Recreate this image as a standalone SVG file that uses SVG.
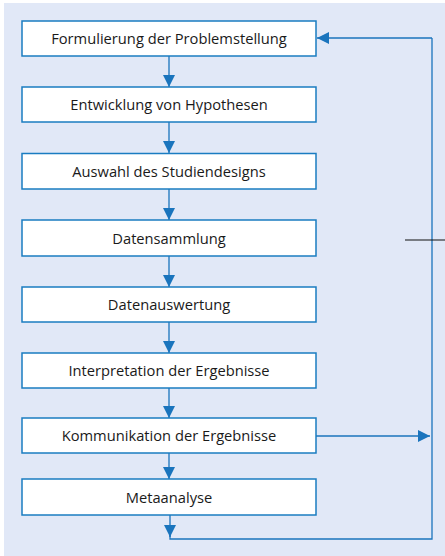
<svg xmlns="http://www.w3.org/2000/svg" width="445" height="556" viewBox="0 0 445 556">
<defs>
<style>
.box{fill:#ffffff;stroke:#1a7cc1;stroke-width:1.5}
.lbl{font-family:"Open Sans","Liberation Sans",sans-serif;font-size:14.7px;fill:#1a1a1a;text-anchor:middle}
.con{fill:none;stroke:#1a74bd;stroke-width:1.3}
</style>
<marker id="ah" viewBox="0 0 12 12" refX="12" refY="6" markerWidth="12" markerHeight="12" markerUnits="userSpaceOnUse" orient="auto">
<path d="M0,0 L12,6 L0,12 Z" fill="#1a74bd"/>
</marker>
</defs>
<rect x="4" y="3" width="441" height="553" fill="#e1e8f7"/>
<g id="connectors">
<line class="con" x1="169" y1="56" x2="169" y2="87" marker-end="url(#ah)"/>
<line class="con" x1="169" y1="122" x2="169" y2="153" marker-end="url(#ah)"/>
<line class="con" x1="169" y1="189" x2="169" y2="220" marker-end="url(#ah)"/>
<line class="con" x1="169" y1="256" x2="169" y2="287" marker-end="url(#ah)"/>
<line class="con" x1="169" y1="322" x2="169" y2="353" marker-end="url(#ah)"/>
<line class="con" x1="169" y1="388" x2="169" y2="418" marker-end="url(#ah)"/>
<line class="con" x1="169" y1="453" x2="169" y2="479" marker-end="url(#ah)"/>
<line class="con" x1="316" y1="436" x2="430" y2="436" marker-end="url(#ah)"/>
<polyline class="con" points="170,515 170,539 432,539 432,38"/>
<line class="con" x1="170" y1="525" x2="170" y2="537" marker-end="url(#ah)"/>
<line class="con" x1="432" y1="38" x2="317" y2="38" marker-end="url(#ah)"/>
<line x1="405" y1="240" x2="445" y2="240" stroke="#111111" stroke-width="1.2"/>
</g>
<g id="n1"><rect class="box" x="22" y="21" width="294" height="35"/><text class="lbl" x="169" y="44">Formulierung der Problemstellung</text></g>
<g id="n2"><rect class="box" x="22" y="87" width="294" height="35"/><text class="lbl" x="169" y="110">Entwicklung von Hypothesen</text></g>
<g id="n3"><rect class="box" x="22" y="153.5" width="294" height="35.5"/><text class="lbl" x="169" y="176.5">Auswahl des Studiendesigns</text></g>
<g id="n4"><rect class="box" x="22" y="220" width="294" height="36"/><text class="lbl" x="169" y="243.5">Datensammlung</text></g>
<g id="n5"><rect class="box" x="22" y="287" width="294" height="35"/><text class="lbl" x="169" y="310">Datenauswertung</text></g>
<g id="n6"><rect class="box" x="22" y="353" width="294" height="35"/><text class="lbl" x="169" y="376">Interpretation der Ergebnisse</text></g>
<g id="n7"><rect class="box" x="22" y="418" width="294" height="35"/><text class="lbl" x="169" y="441">Kommunikation der Ergebnisse</text></g>
<g id="n8"><rect class="box" x="22" y="479" width="294" height="36"/><text class="lbl" x="169" y="502.5">Metaanalyse</text></g>
</svg>
